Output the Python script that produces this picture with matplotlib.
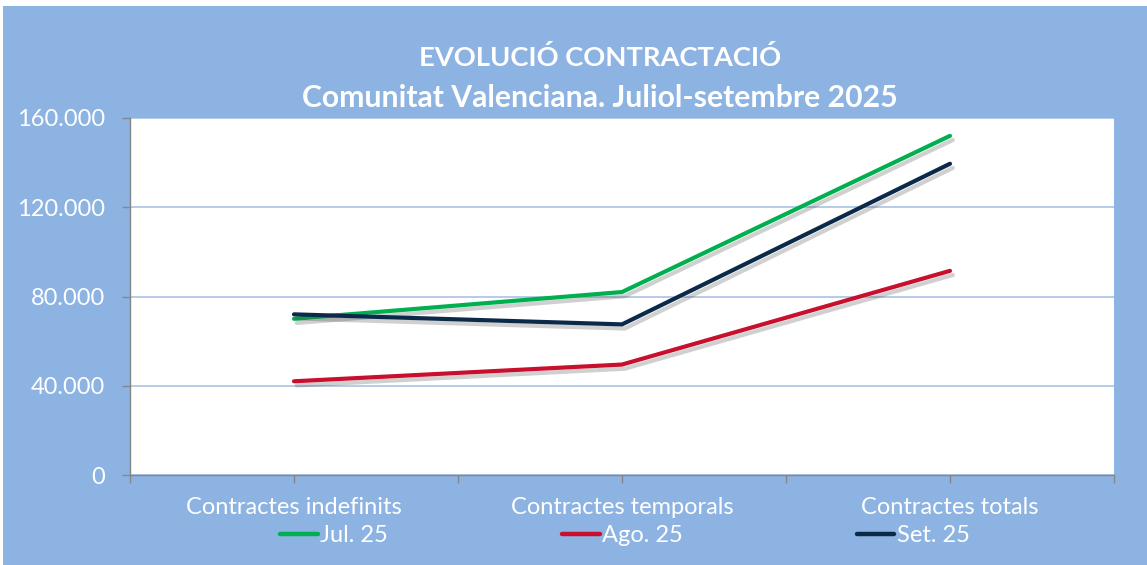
import matplotlib
matplotlib.use("Agg")
import matplotlib.pyplot as plt
import matplotlib.patheffects as pe
from matplotlib.patches import Rectangle
from matplotlib.ticker import FuncFormatter

categories = ["Contractes indefinits", "Contractes temporals", "Contractes totals"]
series_names = ["Jul. 25", "Ago. 25", "Set. 25"]
jul = [70000, 82000, 152000]
ago = [42000, 49500, 91500]
setm = [72000, 67500, 139500]
colors = ["#00B050", "#C8102E", "#0B2A4A"]
yticks = [0, 40000, 80000, 120000, 160000]

plt.rcParams['font.family'] = ['Lato', 'DejaVu Sans']

W, H = 1147, 565
fig = plt.figure(figsize=(W/100, H/100), dpi=100, facecolor="white")
bg = "#8DB3E2"
fig.patches.append(Rectangle((3/W, 0), 1 - 3/W, 1 - 6/H, transform=fig.transFigure,
                             facecolor=bg, edgecolor="none", zorder=-10))

ax = fig.add_axes([130/W, 1 - 475/H, (1114-130)/W, (475-118)/H])
ax.set_facecolor("white")

x = list(range(len(categories)))
for vals, name, c in zip([jul, ago, setm], series_names, colors):
    ax.plot(x, vals, color=c, lw=3.0, label=name, solid_capstyle="round", zorder=3,
            path_effects=[pe.SimpleLineShadow(offset=(2, -3), shadow_color="#444444", alpha=0.25),
                          pe.Normal()])

ax.set_xlim(-0.5, 2.5)
ax.set_ylim(0, 160000)
ax.set_yticks(yticks)
ax.yaxis.set_major_formatter(FuncFormatter(lambda v, p: f"{int(v):,}".replace(",", ".")))
ax.grid(axis="y", color="#A9C2E4", lw=1.2, zorder=1)
ax.set_axisbelow(True)

ax.set_xticks([i - 0.5 for i in range(4)] + x)
ax.set_xticklabels([""] * 7)
for i, cat in enumerate(categories):
    ax.text(i, -33/357, cat, transform=ax.get_xaxis_transform(), ha="center", va="center",
            color="white", fontsize=17)

for s in ["top", "right"]:
    ax.spines[s].set_visible(False)
for s in ["left", "bottom"]:
    ax.spines[s].set_color("#868686")
    ax.spines[s].set_linewidth(1.0)
ax.tick_params(axis="both", colors="#868686", length=6, width=1.0)
ax.tick_params(axis="y", labelcolor="white", labelsize=17, pad=12)

fig.text(600/W, 1 - 57/H, "EVOLUCIÓ CONTRACTACIÓ", ha="center", va="center",
         color="white", fontsize=19.7, fontweight="bold")
fig.text(600/W, 1 - 98/H, "Comunitat Valenciana. Juliol-setembre 2025", ha="center", va="center",
         color="white", fontsize=21.7, fontweight="bold")

leg = fig.legend(loc="center", bbox_to_anchor=(625/W, 1 - 536/H), ncol=3, frameon=False,
                 fontsize=17, handlelength=1.6, handletextpad=0.12, columnspacing=7.35,
                 labelcolor="white")
for h in leg.legend_handles:
    h.set_path_effects([])
    h.set_linewidth(3.2)

fig.savefig("out.png", dpi=100, facecolor=fig.get_facecolor())
